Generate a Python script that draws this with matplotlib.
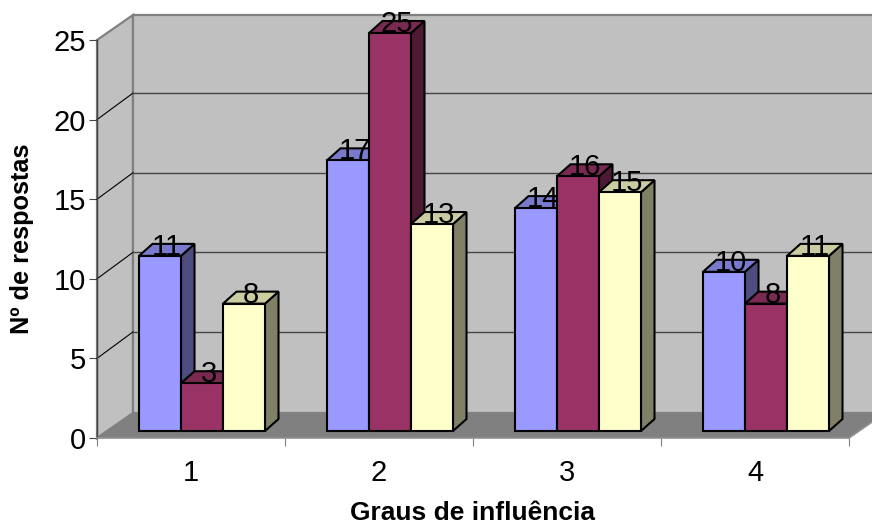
import numpy as np
import matplotlib
matplotlib.use('Agg')
import matplotlib.pyplot as plt
from matplotlib.patches import Polygon

categories = ['1', '2', '3', '4']
serie_a = [11, 17, 14, 10]
serie_b = [3, 25, 16, 8]
serie_c = [8, 13, 15, 11]
y_ticks = [0, 5, 10, 15, 20, 25]

# front, top, side colours of each series
colors_a = ['#9999FF', '#7A7ACC', '#4D4D80']
colors_b = ['#993366', '#7A2952', '#4D1A33']
colors_c = ['#FFFFCC', '#CCCCA3', '#808066']

plt.rcParams['font.family'] = ['Liberation Sans', 'DejaVu Sans']

fig = plt.figure(figsize=(8.72, 5.26), dpi=100)
W, H = 872, 526
# axes covers the front plane of the 3d box
ax = fig.add_axes([97 / W, 1 - 438 / H, 752 / W, 398 / H])
ax.set_xlim(0, 4)
ax.set_ylim(0, 25)
ax.patch.set_visible(False)

px = 4 / 752      # one pixel in x units
py = 25 / 398     # one pixel in y units
wall_dx, wall_dy = 36 * px, 25 * py
grid_dy = 26.5 * py
bar_dx, bar_dy = 13.5 * px, 12 * py
base_y = 7 * py
bar_w = 42 * px
first_bar = 42 * px


def poly(points, face, edge='none', lw=0.0, z=1):
    ax.add_patch(Polygon(points, closed=True, facecolor=face, edgecolor=edge,
                         linewidth=lw, zorder=z, clip_on=False, joinstyle='miter'))


# walls and floor
right = 4 + wall_dx
poly([(0, 0), (wall_dx, wall_dy), (wall_dx, 25 + wall_dy), (0, 25)], '#C0C0C0', '#808080', 1.6, 1)
poly([(wall_dx, wall_dy), (right, wall_dy), (right, 25 + wall_dy), (wall_dx, 25 + wall_dy)],
     '#C0C0C0', '#808080', 1.6, 1)
poly([(0, 0), (4, 0), (right, wall_dy), (wall_dx, wall_dy)], '#808080', 'none', 0, 1.5)
ax.plot([4, 4 + 23 * px], [0, 16 * py], color='#909090', lw=1.2, zorder=1.6, clip_on=False)

# gridlines
for t in y_ticks[1:-1]:
    ax.plot([0, wall_dx], [t, t + grid_dy], color='black', lw=0.8, zorder=2, clip_on=False)
    ax.plot([wall_dx, right], [t + grid_dy, t + grid_dy], color='#444444', lw=1.0, zorder=2, clip_on=False)

# bars
series = [(serie_a, colors_a), (serie_b, colors_b), (serie_c, colors_c)]
z = 3
for i in range(len(categories)):
    for j, (values, cols) in enumerate(series):
        v = values[i]
        x0 = i + first_bar + j * bar_w
        x1 = x0 + bar_w
        y0 = base_y
        y1 = v + base_y
        poly([(x1, y0), (x1 + bar_dx, y0 + bar_dy), (x1 + bar_dx, y1 + bar_dy), (x1, y1)],
             cols[2], 'black', 1.5, z)
        poly([(x0, y1), (x1, y1), (x1 + bar_dx, y1 + bar_dy), (x0 + bar_dx, y1 + bar_dy)],
             cols[1], 'black', 1.5, z)
        poly([(x0, y0), (x1, y0), (x1, y1), (x0, y1)], cols[0], 'black', 1.5, z)
        ax.text((x0 + x1 + bar_dx) / 2, y1 + 1 * py, str(v), ha='center', va='baseline',
                fontsize=21, color='black', zorder=50, clip_on=False)
        z += 1

# axes and ticks
for s in ['top', 'right']:
    ax.spines[s].set_visible(False)
ax.spines['left'].set_color('#444444')
ax.spines['bottom'].set_color('#909090')
ax.spines['left'].set_linewidth(1.0)
ax.spines['bottom'].set_linewidth(1.2)
ax.set_yticks(y_ticks)
ax.tick_params(axis='y', labelsize=21, length=6, width=0.8, color='#444444', pad=2)
ax.set_xticks(np.arange(0, 5))
ax.set_xticklabels([])
ax.tick_params(axis='x', length=6, width=0.8, color='#808080')
ax.set_xticks(np.arange(0.5, 4.5), labels=categories, minor=True)
ax.tick_params(axis='x', which='minor', labelsize=21, length=0, pad=15)

fig.text(472 / W, 1 - 520 / H, 'Graus de influência', ha='center', va='baseline',
         fontsize=19, fontweight='bold')
fig.text(22 / W, 1 - 239 / H, 'Nº de respostas', ha='center', va='center', rotation=90,
         fontsize=18.3, fontweight='bold')

fig.savefig('out.png', dpi=100)
